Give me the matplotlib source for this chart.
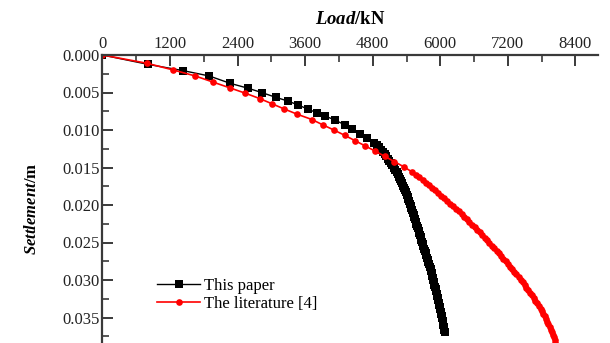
import matplotlib
matplotlib.use('Agg')
import matplotlib.pyplot as plt
from matplotlib.ticker import MultipleLocator, FormatStrFormatter

# This paper: load (kN) and settlement (m)
paper_load = [0, 804, 1437, 1899, 2265, 2590, 2839, 3077, 3290, 3478, 3655, 3804, 3952, 4130,
              4300, 4440, 4575, 4705, 4820, 4868, 4910, 4945, 4978, 5010, 5040, 5068,
              5095, 5122, 5148, 5174, 5200, 5226, 5252, 5271, 5290, 5308, 5325, 5344,
              5362, 5380, 5395, 5408, 5420, 5434, 5447, 5461, 5474, 5488, 5501, 5514,
              5527, 5540, 5552, 5565, 5577, 5590, 5602, 5614, 5626, 5639, 5651, 5664,
              5676, 5689, 5701, 5714, 5727, 5740, 5752, 5765, 5777, 5790, 5803, 5815,
              5826, 5836, 5846, 5856, 5866, 5876, 5886, 5896, 5905, 5915, 5925, 5935,
              5944, 5953, 5961, 5970, 5978, 5987, 5996, 6005, 6013, 6022, 6030, 6039,
              6047, 6056, 6065, 6074, 6082]
paper_settle = [0, 0.00124, 0.00209, 0.00280, 0.00377, 0.00444, 0.00503, 0.00564, 0.00613,
                0.00667, 0.00724, 0.00769, 0.00813, 0.00867,
                0.0093, 0.0099, 0.0105, 0.0111, 0.0117, 0.0120, 0.0123, 0.0126, 0.0129,
                0.0132, 0.0135, 0.0138, 0.0141, 0.0144, 0.0147, 0.0150, 0.0153, 0.0156,
                0.0159, 0.0162, 0.0165, 0.0168, 0.0171, 0.0174, 0.0177, 0.0180, 0.0183,
                0.0186, 0.0189, 0.0192, 0.0195, 0.0198, 0.0201, 0.0204, 0.0207, 0.0210,
                0.0213, 0.0216, 0.0219, 0.0222, 0.0225, 0.0228, 0.0231, 0.0234, 0.0237,
                0.0240, 0.0243, 0.0246, 0.0249, 0.0252, 0.0255, 0.0258, 0.0261, 0.0264,
                0.0267, 0.0270, 0.0273, 0.0276, 0.0279, 0.0282, 0.0285, 0.0288, 0.0291,
                0.0294, 0.0297, 0.0300, 0.0303, 0.0306, 0.0309, 0.0312, 0.0315, 0.0318,
                0.0321, 0.0324, 0.0327, 0.0330, 0.0333, 0.0336, 0.0339, 0.0342, 0.0345,
                0.0348, 0.0351, 0.0354, 0.0357, 0.0360, 0.0363, 0.0366, 0.0369]

# The literature [4]
lit_load = [0, 790, 1260, 1650, 1960, 2270, 2540, 2790, 3010, 3230, 3460, 3720, 3910,
            4110, 4300, 4480, 4660, 4840, 5010, 5180, 5350, 5500, 5568, 5630, 5686,
            5740, 5793, 5845, 5903, 5960, 6015, 6070, 6125, 6180, 6230, 6280, 6330,
            6380, 6425, 6470, 6515, 6560, 6610, 6660, 6700, 6740, 6785, 6830, 6870,
            6910, 6955, 7000, 7040, 7080, 7120, 7160, 7200, 7240, 7275, 7310, 7350,
            7390, 7425, 7460, 7495, 7530, 7565, 7600, 7630, 7660, 7690, 7720, 7750,
            7780, 7805, 7830, 7855, 7880, 7900, 7920, 7940, 7960, 7980, 8000, 8015,
            8030, 8045, 8060]
lit_settle = [0, 0.0011, 0.0020, 0.0028, 0.0036, 0.0044, 0.0051, 0.0058, 0.0065, 0.0072,
              0.0079, 0.0086, 0.0093, 0.0100, 0.0107, 0.0114, 0.0121, 0.0128, 0.0135,
              0.0142, 0.0149, 0.0156, 0.01595, 0.0163, 0.01665, 0.0170, 0.01735, 0.0177,
              0.01805, 0.0184, 0.01875, 0.0191, 0.01945, 0.0198, 0.02015, 0.0205,
              0.02085, 0.0212, 0.02155, 0.0219, 0.02225, 0.0226, 0.02295, 0.0233,
              0.02365, 0.0240, 0.02435, 0.0247, 0.02505, 0.0254, 0.02575, 0.0261,
              0.02645, 0.0268, 0.02715, 0.0275, 0.02785, 0.0282, 0.02855, 0.0289,
              0.02925, 0.0296, 0.02995, 0.0303, 0.03065, 0.0310, 0.03135, 0.0317,
              0.03205, 0.0324, 0.03275, 0.0331, 0.03345, 0.0338, 0.03415, 0.0345,
              0.03485, 0.0352, 0.03555, 0.0359, 0.03625, 0.0366, 0.03695, 0.0373,
              0.03765, 0.0380, 0.03835, 0.0387]

x_ticks = [0, 1200, 2400, 3600, 4800, 6000, 7200, 8400]
y_ticks = [0.000, 0.005, 0.010, 0.015, 0.020, 0.025, 0.030, 0.035]

plt.rcParams['font.family'] = ['Liberation Serif', 'DejaVu Serif']
plt.rcParams['mathtext.fontset'] = 'custom'
plt.rcParams['mathtext.it'] = 'Liberation Serif:italic:bold'
plt.rcParams['mathtext.rm'] = 'Liberation Serif:bold'

fig = plt.figure(figsize=(6.1, 3.43), dpi=100)
ax = fig.add_axes([102.4 / 610, 0.0, (598 - 102.4) / 610, 1 - 55 / 343])

ax.plot(paper_load, paper_settle, '-', color='black', linewidth=1.0,
        marker='s', markersize=6.0, markeredgewidth=0, label='This paper')
ax.plot(lit_load, lit_settle, '-', color='#ff0000', linewidth=1.2,
        marker='o', markersize=4.8, markeredgewidth=0, label='The literature [4]')

ax.set_xlim(0, 8800)
ax.set_ylim(0.0384, 0)
ax.xaxis.tick_top()
ax.xaxis.set_label_position('top')
ax.set_xticks(x_ticks)
ax.set_yticks(y_ticks)
ax.xaxis.set_minor_locator(MultipleLocator(600))
ax.yaxis.set_minor_locator(MultipleLocator(0.0025))
ax.yaxis.set_major_formatter(FormatStrFormatter('%.3f'))

for side in ['right', 'bottom']:
    ax.spines[side].set_visible(False)
for side in ['left', 'top']:
    ax.spines[side].set_linewidth(1.6)
    ax.spines[side].set_color('#3a3a3a')

ax.tick_params(which='major', direction='in', length=8, width=1.4, color='#3a3a3a',
               labelsize=12, labelcolor='#222222', pad=2)
ax.tick_params(which='minor', direction='in', length=5, width=1.2, color='#3a3a3a')
ax.tick_params(axis='x', which='both', top=True, bottom=False)

ax.set_xlabel(r'$\mathit{Load}$/kN', fontsize=13.5, fontweight='bold', labelpad=9)
ax.set_ylabel(r'$\mathit{Settlement}$/m', fontsize=12, fontweight='bold')
ax.yaxis.set_label_coords(-0.125, 0.465)

ax.legend(loc='upper left', bbox_to_anchor=(157 / 610, 1 - 278 / 343),
          bbox_transform=fig.transFigure, frameon=False, fontsize=12,
          handlelength=2.6, handletextpad=0.25, labelspacing=0.12,
          borderpad=0, borderaxespad=0)

fig.savefig('out.png', dpi=100)
plt.close(fig)
